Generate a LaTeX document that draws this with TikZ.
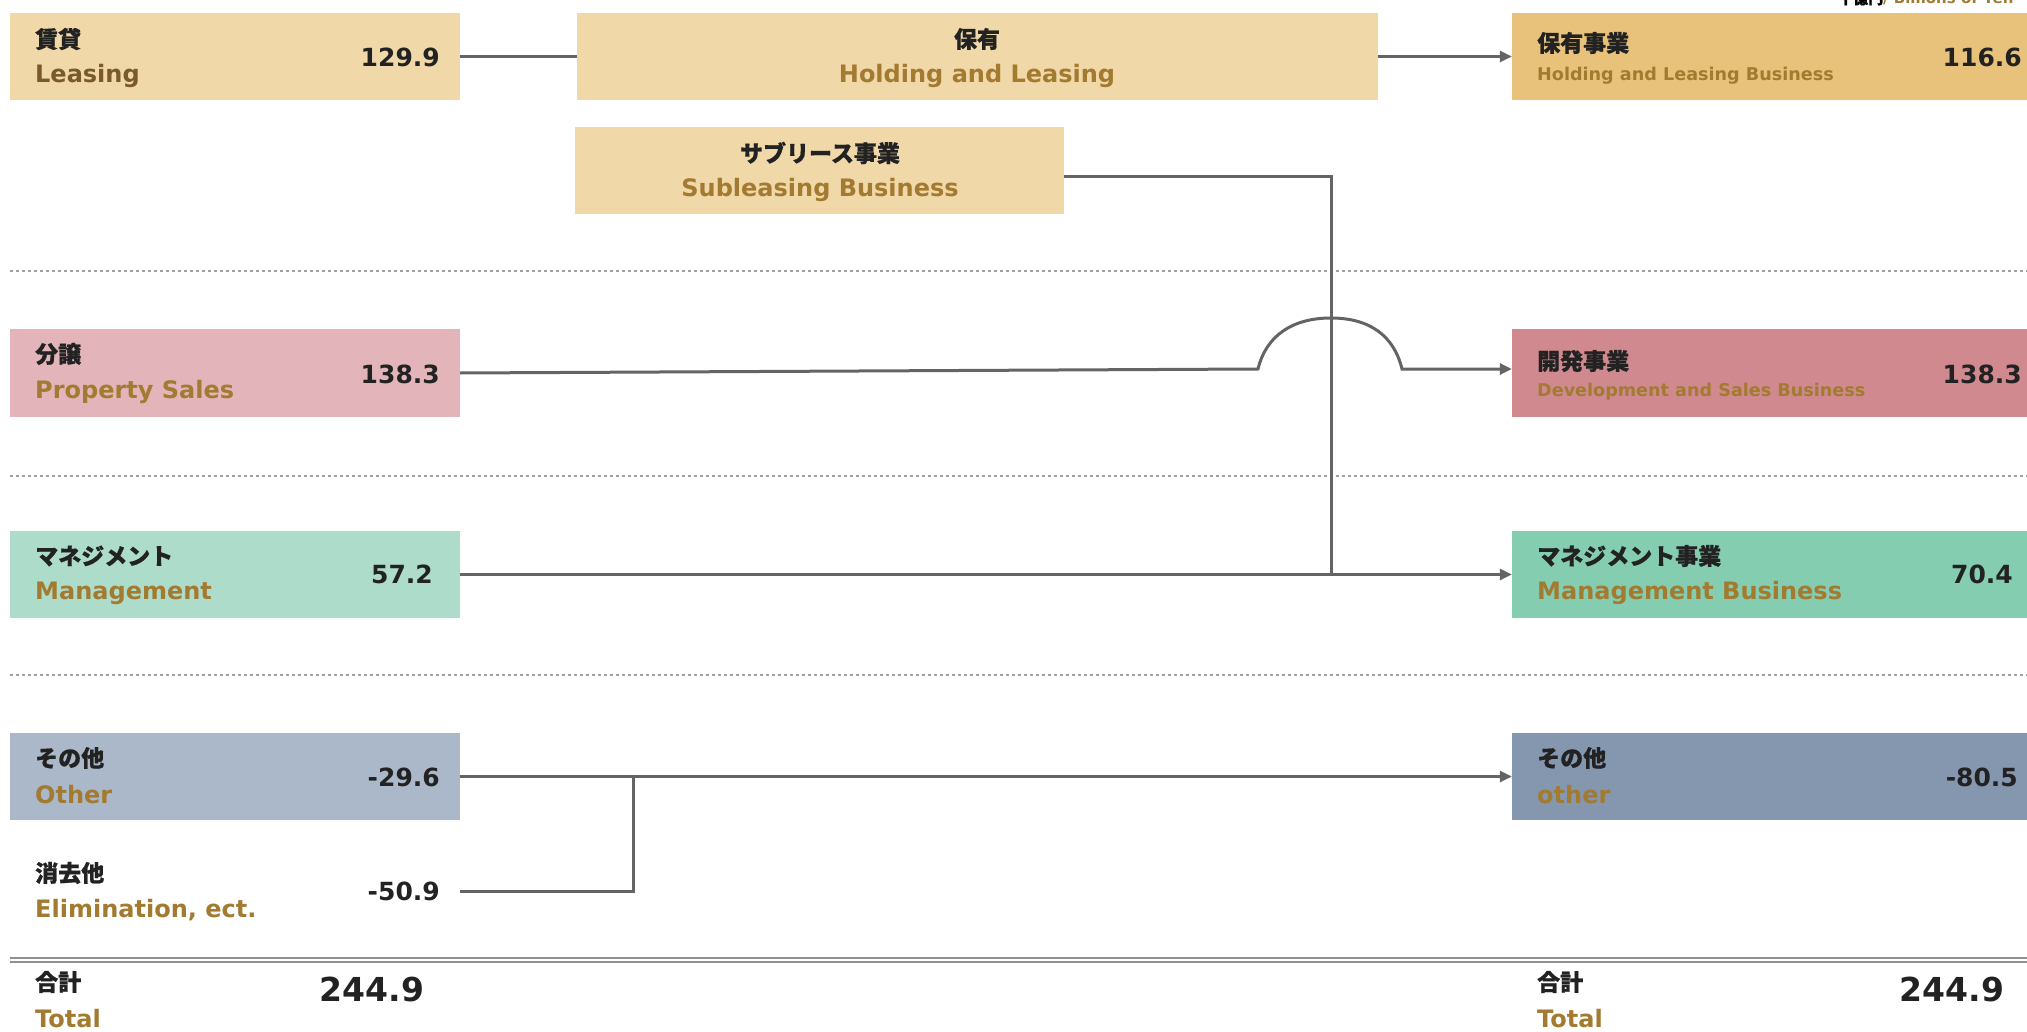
\documentclass[tikz,border=0pt]{standalone}
\usepackage{fontspec}
\newfontfamily\en{DejaVu Sans}
\newfontfamily\jp{Noto Sans CJK JP}[BoldFeatures={FakeBold=0.7}]
\usetikzlibrary{arrows.meta,calc}
\definecolor{gold}{HTML}{A27A30}
\definecolor{darkgold}{HTML}{7A5A2A}
\definecolor{txt}{HTML}{222222}
\definecolor{linegray}{HTML}{646464}
\definecolor{dotgray}{HTML}{A0A0A0}
\definecolor{sand}{HTML}{F0D8A8}
\definecolor{sanddark}{HTML}{E8C27A}
\definecolor{pinkl}{HTML}{E3B5BB}
\definecolor{pinkd}{HTML}{D0898F}
\definecolor{mintl}{HTML}{AEDCCB}
\definecolor{mintd}{HTML}{85CDB1}
\definecolor{bluel}{HTML}{AAB8CA}
\definecolor{blued}{HTML}{8597AF}
\tikzset{
  box/.style={rectangle, draw=none, inner sep=0pt, minimum height=87pt},
  lbox/.style={box, minimum width=450pt},
  rbox/.style={box, minimum width=520pt},
  jpt/.style={anchor=west, inner sep=0pt, text=txt, font={\jp\bfseries\fontsize{23}{26}\selectfont}},
  ent/.style={anchor=west, inner sep=0pt, text=gold, font={\en\bfseries\fontsize{24}{28}\selectfont}},
  ens/.style={anchor=west, inner sep=0pt, text=gold, font={\en\bfseries\fontsize{17.6}{20}\selectfont}},
  val/.style={anchor=east, inner sep=0pt, text=txt, font={\en\bfseries\fontsize{25}{28}\selectfont}},
  tot/.style={anchor=center, inner sep=0pt, text=txt, font={\en\bfseries\fontsize{33}{36}\selectfont}},
  conn/.style={draw=linegray, line width=3pt},
  arr/.style={conn, -{Triangle[length=12pt,width=11pt]}},
  sep/.style={draw=dotgray, line width=2.5pt, dash pattern=on 2.5pt off 3.5pt}
}
\begin{document}
\begin{tikzpicture}[x=1pt,y=-1pt]
\useasboundingbox (0,0) rectangle (2027,1032);
\fill[white] (0,0) rectangle (2027,1032);

% unit caption (cut at top, as in the reference)
\node[anchor=base west, inner sep=0pt, font={\en\bfseries\fontsize{15}{17}\selectfont}] (unit) at (1838,4) {{\jp\bfseries 十億円}\textcolor{gold}{ / Billions of Yen}};

% separators
\draw[sep] (10,271) -- (2027,271);
\draw[sep] (10,476) -- (2027,476);
\draw[sep] (10,675) -- (2027,675);
\draw[draw=dotgray!90!black, line width=1.6pt] (10,958) -- (2027,958);
\draw[draw=dotgray!90!black, line width=1.6pt] (10,962) -- (2027,962);

% row 1
\node[lbox, fill=sand] (leasing) at (235,56.5) {};
\node[jpt] (leasingjp) at (35,39) {賃貸};
\node[ent, text=darkgold] (leasingen) at (35,76) {Leasing};
\node[val] (leasingval) at (440,57) {129.9};

\node[box, fill=sand, minimum width=801pt] (holding) at (977.5,56.5) {};
\node[jpt, anchor=center] (holdingjp) at (977,39) {保有};
\node[ent, anchor=center] (holdingen) at (977,76) {Holding and Leasing};

\node[rbox, fill=sanddark] (holdbiz) at (1772,56.5) {};
\node[jpt] (holdbizjp) at (1537,43) {保有事業};
\node[ens] (holdbizen) at (1537,76) {Holding and Leasing Business};
\node[val] (holdbizval) at (2022,57) {116.6};

\node[box, fill=sand, minimum width=489pt] (sub) at (819.5,171) {};
\node[jpt, anchor=center] (subjp) at (820,153) {サブリース事業};
\node[ent, anchor=center] (suben) at (820,190) {Subleasing Business};

% row 2
\node[lbox, fill=pinkl] (ps) at (235,373) {};
\node[jpt] (psjp) at (35,354) {分譲};
\node[ent] (psen) at (35,392) {Property Sales};
\node[val] (psval) at (440,374) {138.3};

\node[rbox, fill=pinkd] (dev) at (1772,373) {};
\node[jpt] (devjp) at (1537,361) {開発事業};
\node[ens] (deven) at (1537,392) {Development and Sales Business};
\node[val] (devval) at (2022,374) {138.3};

% row 3
\node[lbox, fill=mintl] (mg) at (235,574.5) {};
\node[jpt] (mgjp) at (35,556) {マネジメント};
\node[ent] (mgen) at (35,593) {Management};
\node[val] (mgval) at (433,574) {57.2};

\node[rbox, fill=mintd] (mgb) at (1772,574.5) {};
\node[jpt] (mgbjp) at (1537,556) {マネジメント事業};
\node[ent] (mgben) at (1537,593) {Management Business};
\node[val] (mgbval) at (2013,574) {70.4};

% row 4
\node[lbox, fill=bluel] (ot) at (235,776.5) {};
\node[jpt] (otjp) at (35,758) {その他};
\node[ent] (oten) at (35,795) {Other};
\node[val] (otval) at (440,777) {-29.6};

\node[rbox, fill=blued] (otb) at (1772,776.5) {};
\node[jpt] (otbjp) at (1537,758) {その他};
\node[ent] (otben) at (1537,795) {other};
\node[val] (otbval) at (2018,777) {-80.5};

\node[lbox] (elim) at (235,891) {};
\node[jpt] (elimjp) at (35,873) {消去他};
\node[ent] (elimen) at (35,910) {Elimination, ect.};
\node[val] (elimval) at (440,891) {-50.9};

% totals
\node[jpt] (totljp) at (35,982) {合計};
\node[ent] (totlen) at (35,1019) {Total};
\node[tot] (totlval) at (372,989) {244.9};
\node[jpt] (totrjp) at (1537,982) {合計};
\node[ent] (totren) at (1537,1019) {Total};
\node[tot] (totrval) at (1952,989) {244.9};

% connectors
\draw[conn] (leasing.east) -- (holding.west);
\draw[arr] (holding.east) -- (holdbiz.west);
\coordinate (jn) at (1331,574.5);
\draw[conn] ($(sub.east)+(0,6)$) -| (jn);
\draw[arr] (mg.east) -- (mgb.west);
\coordinate (hopL) at (1258,369);
\coordinate (hopT) at (1331,318);
\coordinate (hopR) at (1402,369);
\draw[arr] (ps.east) -- (hopL) .. controls (1266,336) and (1292,318) .. (hopT) .. controls (1370,318) and (1394,336) .. (hopR) -- (dev.west |- hopR);
\draw[arr] (ot.east) -- (otb.west);
\coordinate (ej) at (633,777);
\draw[conn] (elim.east) -| (ej);
\end{tikzpicture}
\end{document}
